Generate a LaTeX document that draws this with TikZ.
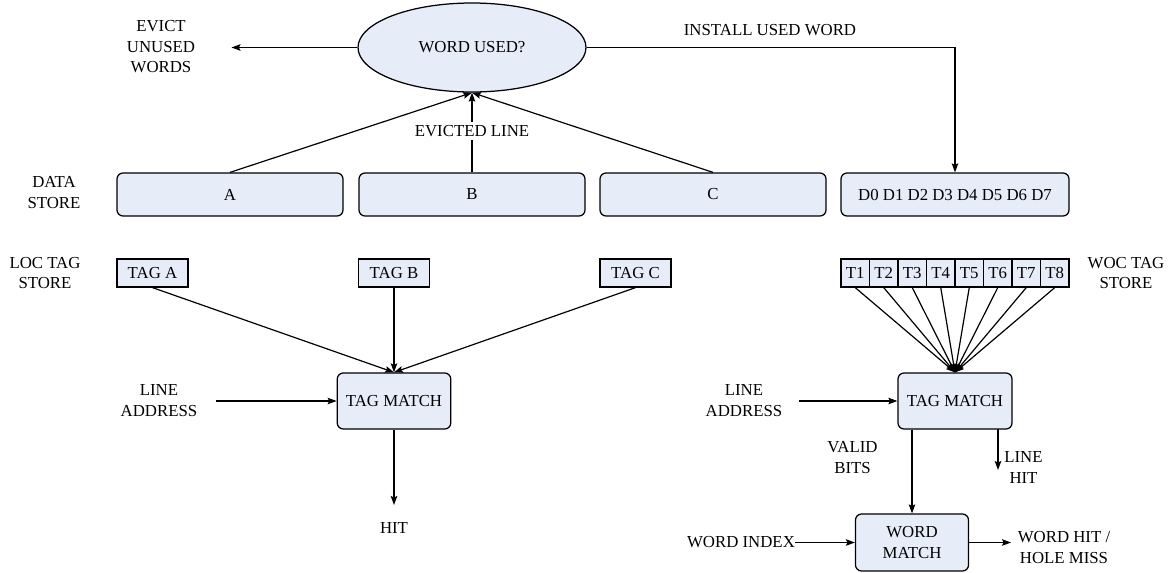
\documentclass[tikz,border=0pt]{standalone}
\usepackage{fontspec}
\setmainfont{Liberation Serif}
\usetikzlibrary{shapes.geometric,arrows.meta}
\definecolor{boxfill}{RGB}{230,237,248}
\tikzset{
  every node/.style={font=\fontsize{16.8}{20.5}\selectfont, align=center},
  lbl/.style={inner sep=0pt},
  rbox/.style={draw, fill=boxfill, rounded corners=6pt, line width=1.25pt, inner sep=0pt},
  sbox/.style={draw, fill=boxfill, line width=1.25pt, inner sep=0pt, minimum width=71pt, minimum height=28pt},
  tbox/.style={draw, fill=boxfill, line width=1.25pt, inner sep=0pt, minimum width=28.5pt, minimum height=28pt},
  ell/.style={draw, fill=boxfill, ellipse, line width=1.25pt, inner sep=0pt, minimum width=228pt, minimum height=89pt},
  conn/.style={line width=1.2pt, -{Stealth[length=9pt,width=6.5pt,inset=1.5pt]}},
  plain/.style={line width=1.2pt}
}
\begin{document}
\begin{tikzpicture}[x=1pt,y=-1pt]
\useasboundingbox (0,0) rectangle (1176,573);

% top
\node[ell] (used) at (472,47.5) {WORD USED?};
\node[lbl] (evict) at (161,47) {EVICT\\UNUSED\\WORDS};
\coordinate (evtip) at (231.5,47.5);
\node[lbl] (install) at (770,30) {INSTALL USED WORD};

% data store
\node[lbl] (dstore) at (54,192.5) {DATA\\STORE};
\node[rbox, minimum width=226pt, minimum height=43pt] (A) at (230,194.5) {A};
\node[rbox, minimum width=226pt, minimum height=43pt] (B) at (472,194.5) {B};
\node[rbox, minimum width=226pt, minimum height=43pt] (C) at (713,194.5) {C};
\node[rbox, minimum width=228pt, minimum height=43pt] (D) at (955,194.5) {D0 D1 D2 D3 D4 D5 D6 D7};

\draw[conn] (used.west) -- (evtip);
\draw[conn] (used.east) -| (D.north);
\draw[conn] (A.north) -- (used.south);
\draw[conn] (C.north) -- (used.south);
\draw[conn] (B.north) -- node[lbl, fill=white, inner ysep=3pt, pos=0.52] (evl) {EVICTED LINE} (used.south);

% LOC tag store
\node[lbl] (loc) at (45,273) {LOC TAG\\STORE};
\node[sbox] (ta) at (152.5,273) {TAG A};
\node[sbox] (tb) at (394,273) {TAG B};
\node[sbox] (tc) at (635.5,273) {TAG C};
\node[rbox, minimum width=113.5pt, minimum height=56pt] (tm1) at (394,401) {TAG MATCH};
\draw[conn] (ta.south) -- (tm1.north);
\draw[conn] (tb.south) -- (tm1.north);
\draw[conn] (tc.south) -- (tm1.north);
\node[lbl] (la1) at (159,400.5) {LINE\\ADDRESS};
\coordinate (la1s) at (216,401);
\draw[conn] (la1s) -- (tm1.west);
\coordinate (hittip) at (394,505);
\draw[conn] (tm1.south) -- (hittip);
\node[lbl] (hit) at (394,528) {HIT};

% WOC tag store
\node[lbl] (woc) at (1126,273) {WOC TAG\\STORE};
\foreach \i in {1,...,8} {
  \node[tbox] (t\i) at ({841+14.25+28.5*(\i-1)},273) {T\i};
}
\node[rbox, minimum width=114pt, minimum height=56pt] (tm2) at (955,401) {TAG MATCH};
\foreach \i in {1,...,8} {
  \draw[conn] (t\i.south) -- (tm2.north);
}
\node[lbl] (la2) at (744,400.5) {LINE\\ADDRESS};
\coordinate (la2s) at (798.5,401);
\draw[conn] (la2s) -- (tm2.west);

\node[rbox, minimum width=113pt, minimum height=57pt] (wm) at (912,542.5) {WORD\\MATCH};
\draw[conn] (wm.north |- tm2.south) -- (wm.north);
\node[lbl] (valid) at (852.5,457.5) {VALID\\BITS};

\coordinate (lhtop) at (998,429);
\coordinate (lhtip) at (998,470);
\draw[conn] (lhtop) -- (lhtip);
\node[lbl] (lh) at (1023.5,467.5) {LINE\\HIT};

\node[lbl] (wi) at (741,542.5) {WORD INDEX};
\draw[conn] (wi.east) -- (wm.west);
\coordinate (wotip) at (1011,542.5);
\draw[conn] (wm.east) -- (wotip);
\node[lbl] (wo) at (1064,547.5) {WORD HIT /\\HOLE MISS};
\end{tikzpicture}
\end{document}
